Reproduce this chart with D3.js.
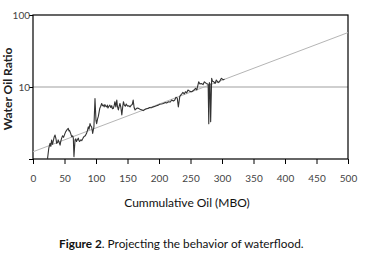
<!DOCTYPE html>
<html>
<head>
<meta charset="utf-8">
<script src="https://cdn.jsdelivr.net/npm/d3@7"></script>
<style>
  body { margin: 0; background: #fff; }
  svg text { font-family: "Lato", "Open Sans", sans-serif; }
</style>
</head>
<body>
<svg id="chart" width="373" height="259"></svg>
<script>
// cumulative oil (MBO) and water oil ratio
var cumOil = [23, 25, 27, 28.3, 29.6, 31, 32, 33.5, 35, 36.5, 37.6, 39, 40, 41.5, 43, 44, 45.5, 47, 48.5, 50.8, 52, 54, 56, 57, 58, 59.5, 61.4, 63, 64, 65, 66.7, 68, 69, 70.5, 72, 73, 74, 76, 77.5, 79.4, 81, 83, 85, 86.5, 87.8, 89, 90.5, 91.5, 93, 94, 94.7, 96.7, 98.4, 100, 101, 102.5, 103.7, 105, 106, 107.5, 109, 110.5, 111.6, 113, 114, 115.5, 117, 118, 119, 120.5, 122, 123.5, 125, 126, 127.5, 129, 130, 131.5, 133, 134, 135.5, 137, 138, 139.5, 141, 142.5, 143.6, 145, 146.5, 148, 149, 150.5, 152, 154, 156, 157.5, 159, 160.5, 162, 164, 165.5, 167.5, 170, 173, 175, 178, 180, 183, 185, 188, 191, 194, 196, 199, 201, 204, 207, 210, 212, 215, 218, 220, 223, 225, 227, 229, 230.7, 233, 234.5, 236, 238, 240, 242, 244, 246, 249, 252, 255, 258, 260, 263, 265, 267, 270, 272, 275, 278, 279, 280, 281, 282, 283.6, 285, 287, 289, 291, 294, 296, 299, 302, 304, 307];
var wor = [1.0, 1.4, 1.65, 1.5, 1.84, 1.6, 1.75, 2.0, 2.15, 1.9, 1.65, 1.7, 1.84, 1.7, 1.56, 1.75, 1.95, 2.1, 2.0, 2.27, 2.4, 2.55, 2.67, 2.45, 2.5, 2.3, 2.04, 2.1, 1.95, 1.08, 1.84, 1.9, 1.75, 1.85, 1.95, 1.8, 1.75, 1.85, 1.8, 1.95, 2.05, 2.1, 2.27, 2.5, 2.8, 2.6, 3.1, 2.9, 2.8, 2.5, 2.27, 2.8, 6.9, 3.4, 3.1, 3.6, 3.9, 4.5, 5.05, 5.4, 5.9, 5.5, 5.6, 5.3, 5.7, 5.4, 5.3, 5.6, 5.1, 5.4, 5.6, 5.2, 5.5, 5.0, 5.05, 5.6, 6.25, 5.3, 6.6, 5.4, 4.8, 5.5, 5.9, 5.2, 4.1, 5.4, 6.25, 5.6, 5.4, 5.8, 5.6, 5.4, 5.5, 5.3, 5.6, 5.7, 6.6, 5.2, 4.8, 5.0, 5.1, 5.05, 4.9, 4.8, 4.7, 4.9, 5.0, 5.05, 5.2, 5.15, 5.3, 5.4, 5.5, 5.6, 5.75, 5.8, 5.9, 6.1, 6.0, 6.25, 6.2, 6.6, 6.4, 6.6, 7.2, 7.0, 5.3, 7.4, 7.7, 8.0, 8.4, 8.0, 8.6, 8.3, 9.1, 8.7, 8.6, 9.0, 9.6, 9.1, 11.8, 11.0, 11.2, 10.8, 11.8, 11.2, 10.9, 3.1, 11.5, 11.0, 3.3, 13.2, 12.0, 11.8, 11.2, 12.5, 11.5, 11.8, 13.2, 12.6, 12.8];
// projected trend (straight line on log scale)
var trendX = [0, 500];
var trendY = [1.26, 57];
var xTicks = [0, 50, 100, 150, 200, 250, 300, 350, 400, 450, 500];
var yTicks = [1, 10, 100];
var yTickLabels = ["", "10", "100"];

var svg = d3.select("#chart"),
    margin = {top: 15, left: 33, bottom: 100, right: 25},
    width = +svg.attr("width"),
    height = +svg.attr("height");

var x = d3.scaleLinear().domain([0, 500]).range([margin.left, width - margin.right]);
var y = d3.scaleLog().domain([1, 100]).range([height - margin.bottom, margin.top]);

// gridline at 10
svg.append("line")
    .attr("x1", x(0)).attr("x2", x(500))
    .attr("y1", y(10)).attr("y2", y(10))
    .attr("stroke", "#cfcfcf")
    .attr("stroke-width", 2);

// frame
svg.append("rect")
    .attr("x", x(0)).attr("y", y(100))
    .attr("width", x(500) - x(0))
    .attr("height", y(1) - y(100))
    .attr("fill", "none")
    .attr("stroke", "#000")
    .attr("stroke-width", 1.2);

svg.append("clipPath").attr("id", "plot-clip")
    .append("rect")
    .attr("x", x(0)).attr("y", y(100))
    .attr("width", x(500) - x(0))
    .attr("height", y(1) - y(100));

// trend
svg.append("path")
    .datum(d3.zip(trendX, trendY))
    .attr("fill", "none")
    .attr("stroke", "#b5b5b5")
    .attr("stroke-width", 1)
    .attr("d", d3.line().x(d => x(d[0])).y(d => y(d[1])));

// data
svg.append("path")
    .datum(d3.zip(cumOil, wor))
    .attr("clip-path", "url(#plot-clip)")
    .attr("fill", "none")
    .attr("stroke", "#333")
    .attr("stroke-width", 1.1)
    .attr("stroke-linejoin", "round")
    .attr("d", d3.line().x(d => x(d[0])).y(d => y(d[1])));

var xAxis = svg.append("g")
    .attr("transform", `translate(0,${y(1)})`)
    .call(d3.axisBottom(x).tickValues(xTicks).tickSize(5).tickSizeOuter(0));
xAxis.select(".domain").remove();
xAxis.selectAll("line").attr("stroke", "#000");
xAxis.selectAll("text")
    .attr("dy", "1.45em")
    .attr("fill", "#444")
    .style("font-size", "10px");

var yAxis = svg.append("g")
    .attr("transform", `translate(${x(0)},0)`)
    .call(d3.axisLeft(y).tickValues(yTicks).tickFormat((d, i) => yTickLabels[i]).tickSize(4).tickSizeOuter(0));
yAxis.select(".domain").remove();
yAxis.selectAll("line").attr("stroke", "#000");
yAxis.selectAll("text")
    .attr("x", -3)
    .attr("fill", "#444")
    .style("font-size", "10px");

svg.append("text")
    .attr("transform", `translate(12,${(y(1) + y(100)) / 2 + 2}) rotate(-90)`)
    .attr("text-anchor", "middle")
    .style("font-size", "12px")
    .style("font-weight", "bold")
    .attr("fill", "#222")
    .text("Water Oil Ratio");

svg.append("text")
    .attr("x", 187)
    .attr("y", 207)
    .attr("text-anchor", "middle")
    .style("font-size", "12px")
    .attr("fill", "#111")
    .text("Cummulative Oil (MBO)");

var cap = svg.append("text")
    .attr("x", 59)
    .attr("y", 248)
    .style("font-size", "11.8px")
    .attr("fill", "#111");
cap.append("tspan").style("font-weight", "bold").text("Figure 2");
cap.append("tspan").text(". Projecting the behavior of waterflood.");
</script>
</body>
</html>
